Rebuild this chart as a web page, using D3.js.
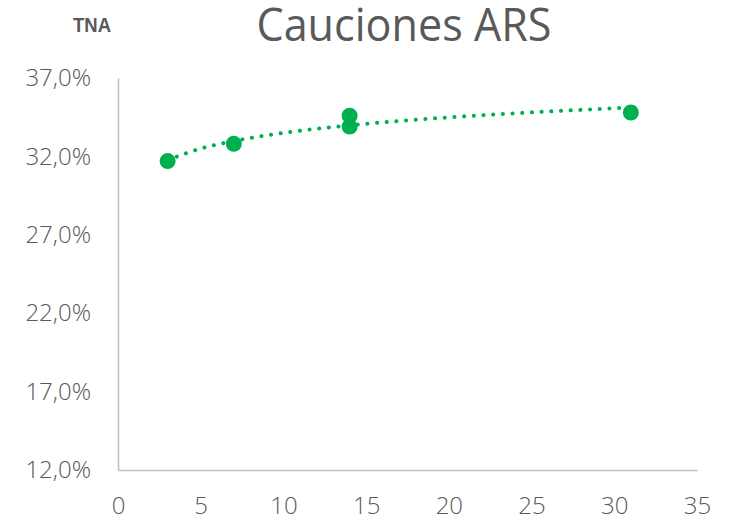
<!DOCTYPE html>
<html>
<head>
<meta charset="utf-8">
<script src="https://cdn.jsdelivr.net/npm/d3@7"></script>
<style>
    body { margin: 0; background: #fff; }
    .axis text { font-family: "Open Sans", sans-serif; font-weight: 300; font-size: 24px; fill: #595959; }
</style>
</head>
<body>
<div id="chart"></div>
<script>
// Data
const plazos = [3, 7, 14, 14, 31];
const tasas = [31.7, 32.8, 34.6, 33.9, 34.8];

// trendline
const trendPlazos = [3, 5, 7, 10, 13, 16, 20, 24, 28, 31];
const trendTasas = [31.77, 32.5, 32.98, 33.5, 33.87, 34.17, 34.49, 34.75, 34.97, 35.12];

const yTicks = [12, 17, 22, 27, 32, 37];
const xTicks = [0, 5, 10, 15, 20, 25, 30, 35];

const green = '#00B050';

let dimensions = {
    width: 729,
    height: 523,
    margin: { top: 78, bottom: 53, left: 118, right: 32 }
};
dimensions.ctrWidth = dimensions.width - dimensions.margin.left - dimensions.margin.right;
dimensions.ctrHeight = dimensions.height - dimensions.margin.top - dimensions.margin.bottom;

// Scales
const xScale = d3.scaleLinear()
    .domain([0, 35])
    .range([0, dimensions.ctrWidth]);

const yScale = d3.scaleLinear()
    .domain([12, 37])
    .range([dimensions.ctrHeight, 0]);

const svg = d3.select('#chart')
    .append('svg')
    .attr('width', dimensions.width)
    .attr('height', dimensions.height);

// Titles
svg.append('text')
    .attr('x', 404)
    .attr('y', 41)
    .attr('text-anchor', 'middle')
    .attr('textLength', 295)
    .attr('lengthAdjust', 'spacingAndGlyphs')
    .style('font-family', '"Open Sans", sans-serif')
    .style('font-size', '46px')
    .style('fill', '#595959')
    .text('Cauciones ARS');

svg.append('text')
    .attr('x', 73)
    .attr('y', 32)
    .attr('textLength', 38)
    .attr('lengthAdjust', 'spacingAndGlyphs')
    .style('font-family', '"Liberation Sans Narrow", "Liberation Sans", sans-serif')
    .style('font-weight', 'bold')
    .style('font-size', '21px')
    .style('fill', '#595959')
    .text('TNA');

const ctr = svg.append('g')
    .attr('transform', `translate(${dimensions.margin.left},${dimensions.margin.top})`);

// Axes
const yAxis = d3.axisLeft(yScale)
    .tickValues(yTicks)
    .tickSize(0)
    .tickPadding(27)
    .tickFormat(d => d3.format('.1f')(d).replace('.', ',') + '%');

ctr.append('g')
    .call(yAxis)
    .classed('axis', true);

const xAxis = d3.axisBottom(xScale)
    .tickValues(xTicks)
    .tickSize(0)
    .tickPadding(27);

ctr.append('g')
    .call(xAxis)
    .attr('transform', `translate(0,${dimensions.ctrHeight})`)
    .classed('axis', true);

ctr.selectAll('.axis .domain')
    .attr('stroke', '#BFBFBF')
    .attr('stroke-width', 1.5);

// Trendline
const line = d3.line()
    .x((d, i) => xScale(trendPlazos[i]))
    .y(d => yScale(d))
    .curve(d3.curveMonotoneX);

ctr.append('path')
    .datum(trendTasas)
    .attr('d', line)
    .attr('fill', 'none')
    .attr('stroke', green)
    .attr('stroke-width', 4)
    .attr('stroke-linecap', 'round')
    .attr('stroke-dasharray', '0.1 9.6');

// Points
ctr.selectAll('circle')
    .data(plazos)
    .join('circle')
    .attr('cx', d => xScale(d))
    .attr('cy', (d, i) => yScale(tasas[i]))
    .attr('r', 8)
    .attr('fill', green);
</script>
</body>
</html>
